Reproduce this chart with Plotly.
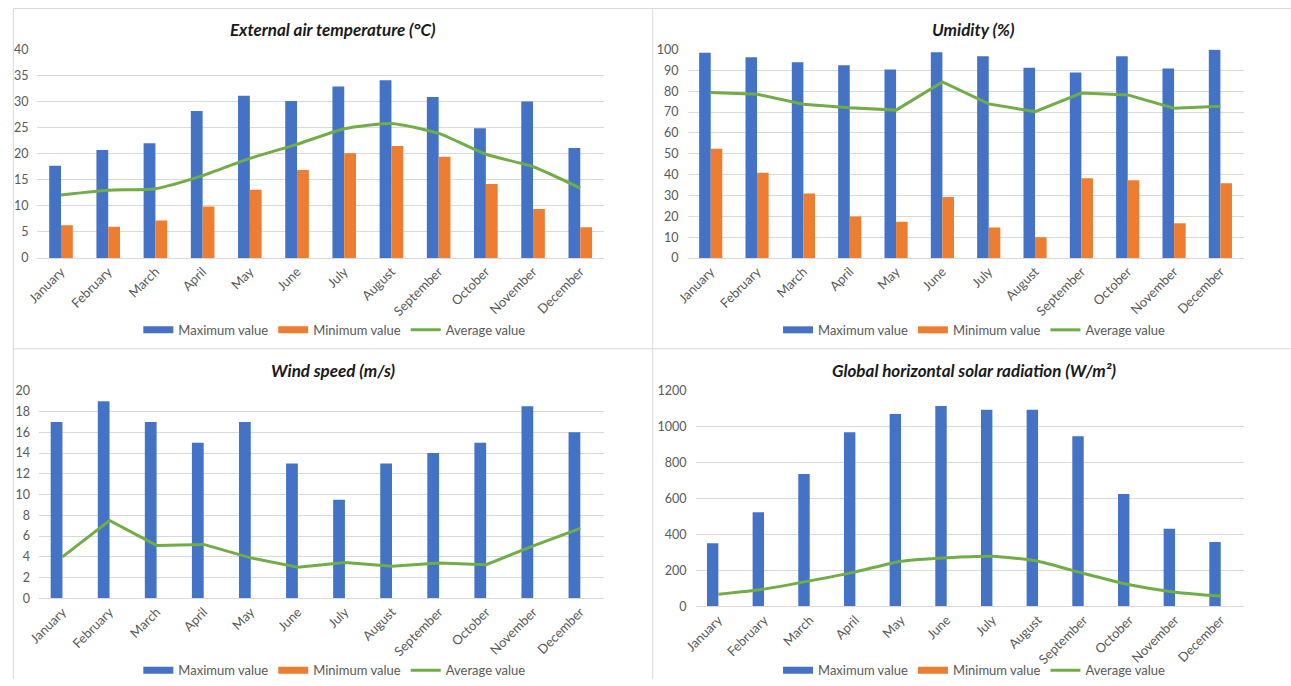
import plotly.graph_objects as go

months = ["January", "February", "March", "April", "May", "June", "July",
          "August", "September", "October", "November", "December"]

temp_max = [17.7, 20.7, 22.0, 28.2, 31.1, 30.1, 32.9, 34.1, 30.9, 24.9, 30.0, 21.1]
temp_min = [6.3, 6.0, 7.2, 9.9, 13.1, 16.9, 20.1, 21.5, 19.4, 14.2, 9.4, 5.9]
temp_avg = [12.1, 13.0, 13.3, 15.8, 19.1, 21.8, 24.8, 25.8, 23.9, 19.9, 17.5, 13.4]

hum_max = [98.4, 96.3, 93.8, 92.4, 90.4, 98.7, 96.7, 91.2, 88.9, 96.7, 90.8, 99.8]
hum_min = [52.4, 40.9, 30.9, 19.9, 17.4, 29.3, 14.6, 9.9, 38.2, 37.3, 16.7, 35.8]
hum_avg = [79.3, 78.5, 73.7, 72.0, 70.9, 84.4, 73.9, 70.2, 79.1, 78.2, 71.8, 72.8]

wind_max = [17, 19, 17, 15, 17, 13, 9.5, 13, 14, 15, 18.5, 16]
wind_min = [0, 0, 0, 0, 0, 0, 0, 0, 0, 0, 0, 0]
wind_avg = [4.0, 7.5, 5.1, 5.2, 3.9, 3.0, 3.45, 3.1, 3.4, 3.25, 5.05, 6.75]

sol_max = [351, 524, 737, 969, 1071, 1115, 1095, 1095, 947, 626, 432, 358]
sol_min = [0, 0, 0, 0, 0, 0, 0, 0, 0, 0, 0, 0]
sol_avg = [68, 96, 142, 192, 251, 271, 279, 251, 183, 120, 79, 57]

titles = ["External air temperature (°C)", "Umidity (%)",
          "Wind speed (m/s)", "Global horizontal solar radiation (W/m²)"]

BLUE, ORANGE, GREEN = "#4472C4", "#ED7D31", "#70AD47"
FONT = "Lato, Carlito, Calibri, sans-serif"
GRID = "#D9D9D9"
TXT = "#595959"
W, H = 1291, 686

def px_x(v):
    return min(max(((v - 8) / 0.9935) / W, 0.4 / W), 1)

def px_y(v):
    return min(max(1 - ((v - 7.5) / 0.98) / H, 0), 1 - 0.4 / H)

panels = [
    dict(data=(temp_max, temp_min, temp_avg), spline=True, rng=[0, 40], dtick=5,
         xd=[32.5, 601], yd=[258, 49], tx=329, ty=29, lx=331, ly=330),
    dict(data=(hum_max, hum_min, hum_avg), spline=False, rng=[0, 100], dtick=10,
         xd=[685, 1243], yd=[258, 49], tx=971, ty=29, lx=973, ly=330),
    dict(data=(wind_max, wind_min, wind_avg), spline=False, rng=[0, 20], dtick=2,
         xd=[34, 601], yd=[599, 391], tx=329, ty=371, lx=331, ly=671),
    dict(data=(sol_max, sol_min, sol_avg), spline=True, rng=[0, 1200], dtick=200,
         xd=[693, 1243], yd=[607, 391], tx=972, ty=371, lx=973, ly=671),
]

fig = go.Figure()
annotations = []
layout = {}
for i, p in enumerate(panels, start=1):
    sfx = "" if i == 1 else str(i)
    xa, ya = "x" + sfx, "y" + sfx
    leg = "legend" + sfx
    mx, mn, av = p["data"]
    fig.add_trace(go.Bar(x=months, y=mx, name="Maximum value", marker_color=BLUE,
                         marker_line_width=0, xaxis=xa, yaxis=ya, legend=leg,
                         legendgroup="max" + sfx, showlegend=False))
    fig.add_trace(go.Bar(x=months, y=mn, name="Minimum value", marker_color=ORANGE,
                         marker_line_width=0, xaxis=xa, yaxis=ya, legend=leg,
                         legendgroup="min" + sfx, showlegend=False))
    # legend swatches (wide rectangles like the original legend keys)
    fig.add_trace(go.Scatter(x=[months[0]], y=[None], name="Maximum value", mode="lines",
                             line=dict(color=BLUE, width=7), xaxis=xa, yaxis=ya,
                             legend=leg, legendgroup="max" + sfx, hoverinfo="skip"))
    fig.add_trace(go.Scatter(x=[months[0]], y=[None], name="Minimum value", mode="lines",
                             line=dict(color=ORANGE, width=7), xaxis=xa, yaxis=ya,
                             legend=leg, legendgroup="min" + sfx, hoverinfo="skip"))
    fig.add_trace(go.Scatter(x=months, y=av, name="Average value", mode="lines",
                             line=dict(color=GREEN, width=3,
                                       shape="spline" if p["spline"] else "linear",
                                       smoothing=0.6),
                             xaxis=xa, yaxis=ya, legend=leg))
    layout["xaxis" + sfx] = dict(domain=[px_x(p["xd"][0]), px_x(p["xd"][1])],
                                 anchor=ya, tickangle=-45, showgrid=False,
                                 showline=True, linecolor=GRID, linewidth=1,
                                 ticks="", tickfont=dict(family=FONT, size=13, color=TXT),
                                 fixedrange=True)
    layout["yaxis" + sfx] = dict(domain=[px_y(p["yd"][0]), px_y(p["yd"][1])],
                                 anchor=xa, range=p["rng"], dtick=p["dtick"],
                                 showgrid=True, gridcolor=GRID, gridwidth=1,
                                 zeroline=False, showline=False, ticks="",
                                 ticklabelstandoff=8,
                                 tickfont=dict(family=FONT, size=12.5, color=TXT),
                                 fixedrange=True)
    layout[leg] = dict(x=px_x(p["lx"]), y=px_y(p["ly"]), xanchor="center",
                       yanchor="middle", orientation="h",
                       font=dict(family=FONT, size=13, color=TXT),
                       bgcolor="rgba(0,0,0,0)", itemwidth=30)
    annotations.append(dict(text=titles[i - 1], x=px_x(p["tx"]), y=px_y(p["ty"]),
                            xref="paper", yref="paper", showarrow=False,
                            xanchor="center", yanchor="middle",
                            font=dict(family=FONT, size=17, color="#1a1a1a",
                                      weight="bold", style="italic")))

line = dict(color=GRID, width=1)
shapes = [
    dict(type="line", xref="paper", yref="paper", x0=px_x(7), x1=1, y0=px_y(8), y1=px_y(8), line=line),
    dict(type="line", xref="paper", yref="paper", x0=px_x(7), x1=px_x(7), y0=0, y1=px_y(8), line=line),
    dict(type="line", xref="paper", yref="paper", x0=px_x(650), x1=px_x(650), y0=0, y1=px_y(8), line=line),
    dict(type="line", xref="paper", yref="paper", x0=px_x(7), x1=1, y0=px_y(349), y1=px_y(349), line=line),
]

fig.update_layout(
    width=W, height=H, margin=dict(l=0, r=0, t=0, b=0),
    paper_bgcolor="white", plot_bgcolor="white",
    barmode="group", bargap=0.5, bargroupgap=0,
    annotations=annotations, shapes=shapes,
    font=dict(family=FONT, color=TXT),
    **layout,
)

fig.write_html(
    "out.html",
    config={"displayModeBar": False},
    post_script="document.body.style.margin='0';document.body.style.overflow='hidden';",
)
